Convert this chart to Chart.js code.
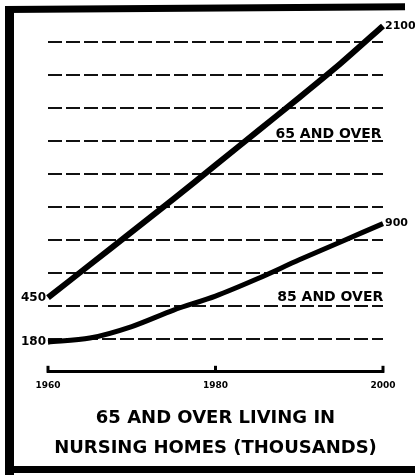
<!DOCTYPE html>
<html>
<head>
<meta charset="utf-8">
<script src="https://cdn.jsdelivr.net/npm/chart.js@4.4.1/dist/chart.umd.min.js"></script>
<style>
  html, body { margin: 0; padding: 0; background: #fff; }
  #wrap { position: relative; width: 415px; height: 475px; overflow: hidden; }
  #chart { position: absolute; left: 0; top: 0; }
  .bar { position: absolute; background: #000; }
</style>
</head>
<body>
<div id="wrap">
  <canvas id="chart" width="415" height="475"></canvas>
  <div class="bar" style="left:5px; top:7px; width:9px; height:468px;"></div>
  <div class="bar" style="left:5px; top:6px; width:400px; height:7px; transform:rotate(-0.4deg); transform-origin:0 0;"></div>
  <div class="bar" style="left:5px; top:466px; width:410px; height:7px;"></div>
</div>
<script>
// values (thousands of people)
const years = [1960, 1965, 1970, 1975, 1980, 1985, 1990, 1995, 2000];
const over65 = [450, 650, 850, 1050, 1255, 1460, 1665, 1875, 2100];
const over85 = [180, 205, 275, 375, 460, 565, 680, 790, 900];
const tickYears = [1960, 1980, 2000];
const seriesNames = ['65 AND OVER', '85 AND OVER'];
const titleLines = ['65 AND OVER LIVING IN', 'NURSING HOMES (THOUSANDS)'];

// where the series names sit, in data units
const nameSpots = [{ x: 1993.5, y: 1440 }, { x: 1993.7, y: 450 }];

const toPoints = vals => years.map((yr, i) => ({ x: yr, y: vals[i] }));

const labelsPlugin = {
  id: 'labels',
  afterDraw(chart) {
    const ctx = chart.ctx;
    const xs = chart.scales.x, ys = chart.scales.y;
    const area = chart.chartArea;

    // small upward ticks on the time axis
    ctx.save();
    ctx.strokeStyle = '#000';
    ctx.lineWidth = 3;
    tickYears.forEach(yr => {
      const px = xs.getPixelForValue(yr);
      ctx.beginPath();
      ctx.moveTo(px, area.bottom + 1);
      ctx.lineTo(px, area.bottom - 6);
      ctx.stroke();
    });

    ctx.fillStyle = '#000';
    ctx.textBaseline = 'middle';
    [over65, over85].forEach(vals => {
      const first = vals[0], last = vals[vals.length - 1];
      ctx.font = 'bold 12px "DejaVu Sans"';
      ctx.textAlign = 'right';
      ctx.fillText(String(first), xs.getPixelForValue(years[0]) - 2, ys.getPixelForValue(first));
      ctx.font = 'bold 11px "DejaVu Sans"';
      ctx.textAlign = 'left';
      ctx.fillText(String(last), xs.getPixelForValue(years[years.length - 1]) + 2, ys.getPixelForValue(last));
    });

    ctx.font = 'bold 14px "DejaVu Sans"';
    ctx.textAlign = 'center';
    seriesNames.forEach((name, i) => {
      ctx.fillText(name, xs.getPixelForValue(nameSpots[i].x), ys.getPixelForValue(nameSpots[i].y));
    });
    ctx.restore();
  }
};

new Chart(document.getElementById('chart'), {
  type: 'line',
  data: {
    datasets: [
      { label: seriesNames[0], data: toPoints(over65), borderColor: '#000', borderWidth: 6,
        pointRadius: 0, tension: 0.2, clip: false },
      { label: seriesNames[1], data: toPoints(over85), borderColor: '#000', borderWidth: 5,
        pointRadius: 0, tension: 0.3, clip: false }
    ]
  },
  options: {
    responsive: false,
    animation: false,
    devicePixelRatio: 1,
    layout: { padding: { left: 48, right: 32, top: 26, bottom: 6 } },
    plugins: {
      legend: { display: false },
      tooltip: { enabled: false },
      title: {
        display: true,
        position: 'bottom',
        text: titleLines,
        color: '#000',
        font: { family: 'DejaVu Sans', size: 18, weight: 'bold', lineHeight: 1.65 },
        padding: { top: 5, bottom: 6 }
      }
    },
    scales: {
      x: {
        type: 'linear',
        min: years[0],
        max: years[years.length - 1],
        afterBuildTicks: s => { s.ticks = tickYears.map(v => ({ value: v })); },
        ticks: { color: '#000', font: { family: 'DejaVu Sans', size: 9, weight: 'bold' }, padding: 8,
                 callback: v => String(v), maxRotation: 0 },
        grid: { drawOnChartArea: false, drawTicks: false },
        border: { display: true, color: '#000', width: 3 }
      },
      y: {
        min: 0,
        max: 2100,
        ticks: { display: false, stepSize: 200 },
        grid: {
          drawTicks: false,
          lineWidth: 2,
          color: c => (c.tick && c.tick.value > 0 && c.tick.value <= 2000) ? '#111' : 'rgba(0,0,0,0)'
        },
        border: { display: false, dash: [14, 4] }
      }
    }
  },
  plugins: [labelsPlugin]
});
</script>
</body>
</html>
